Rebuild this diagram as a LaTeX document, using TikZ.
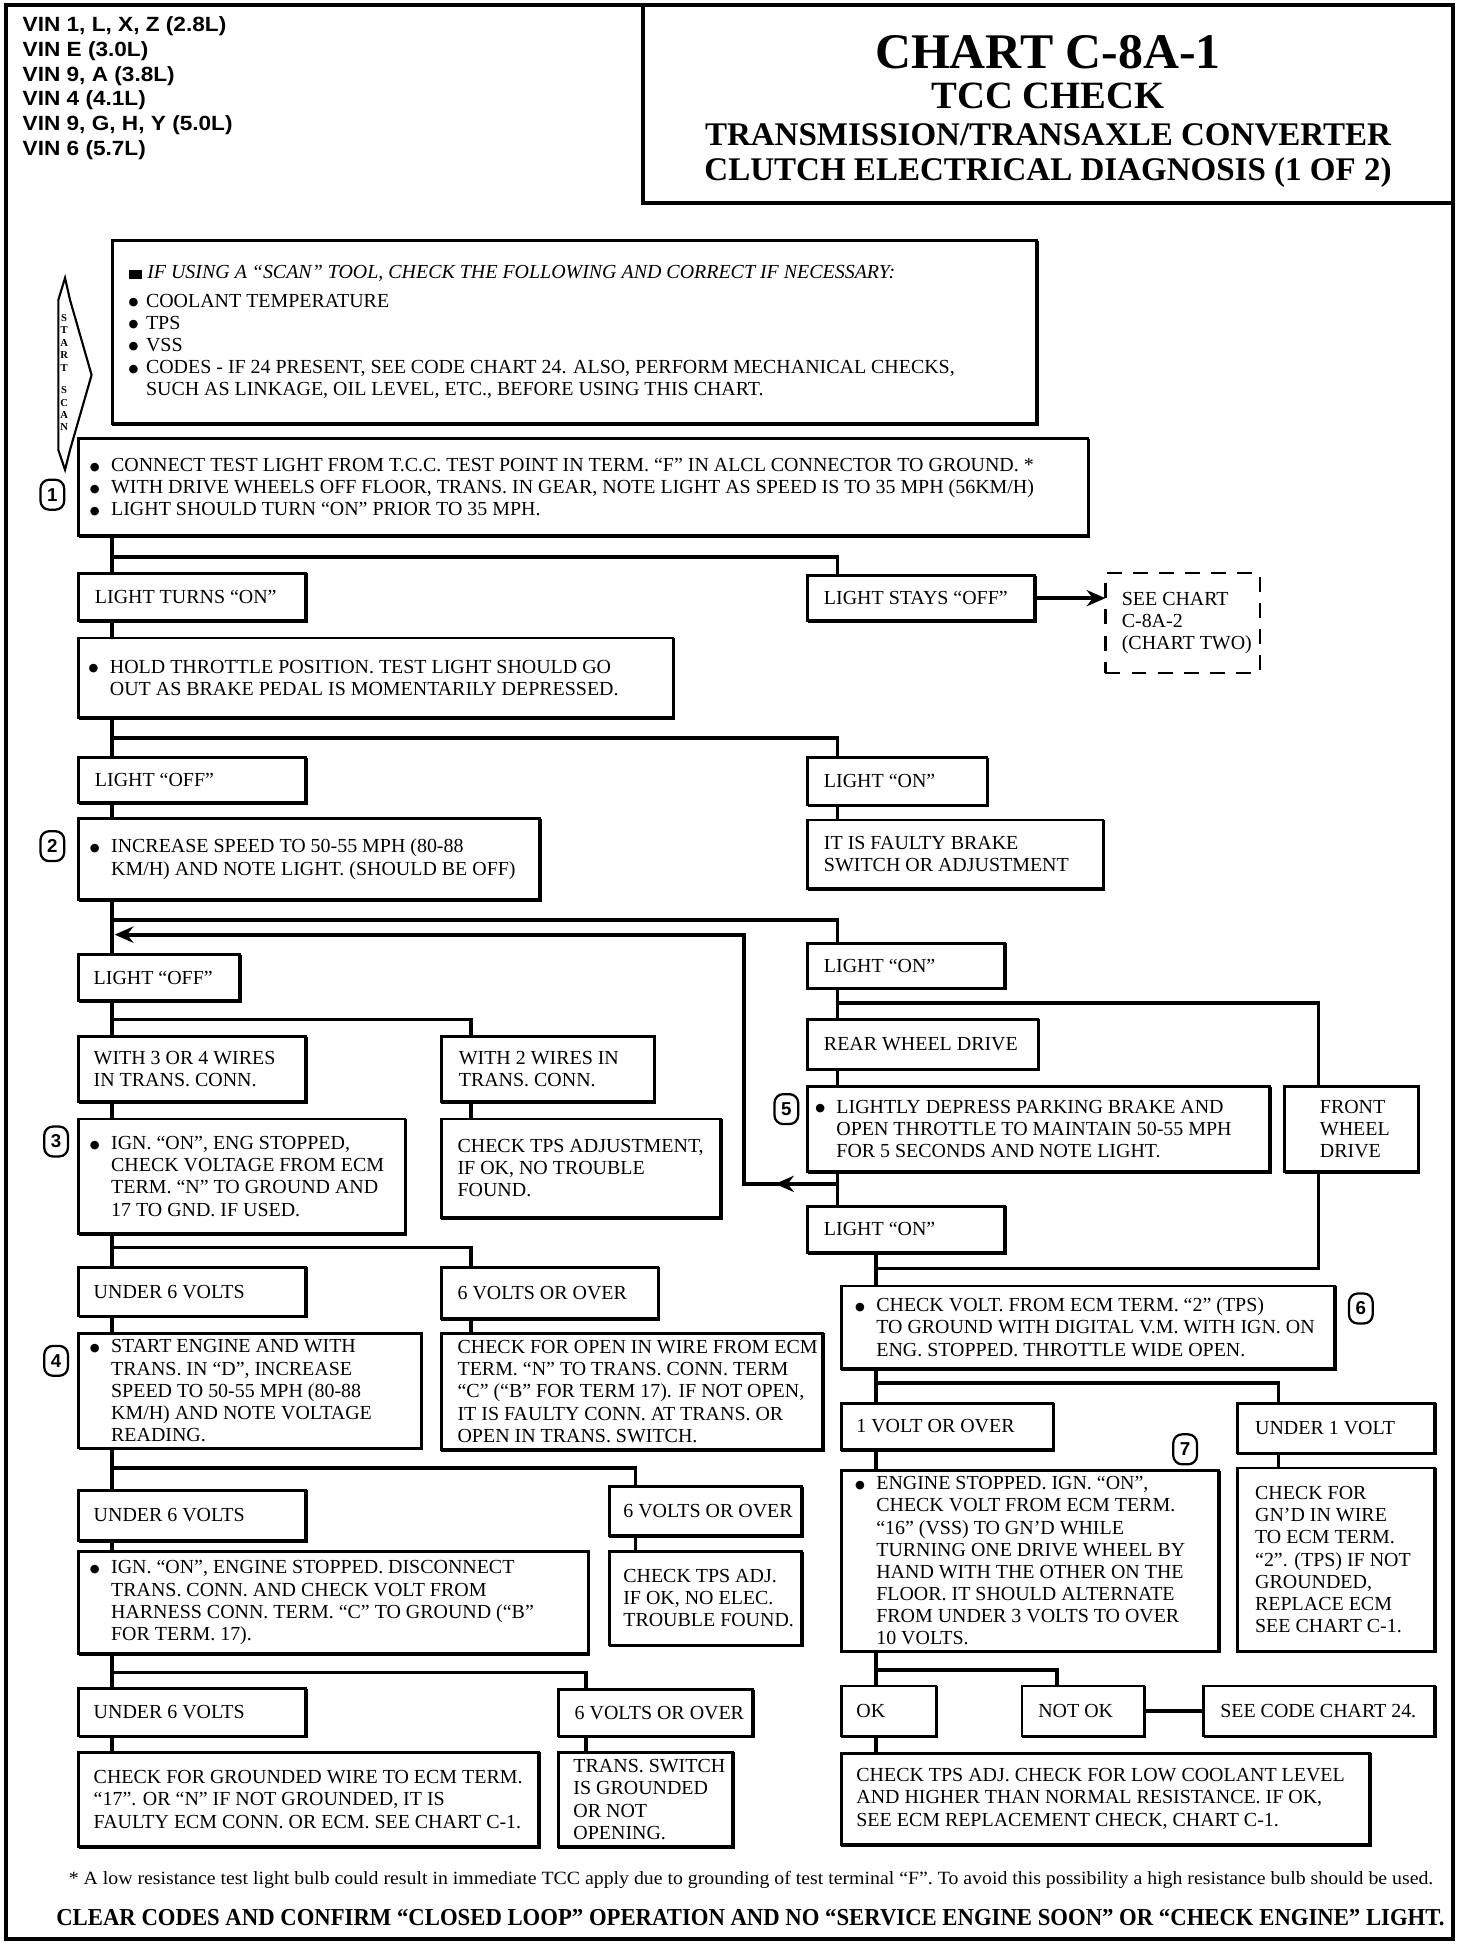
\documentclass[tikz,border=0pt]{standalone}
\usepackage{fontspec}
\setmainfont{Liberation Serif}
\setsansfont{Liberation Sans}
\newfontfamily\vinfont[FakeStretch=1.1]{Liberation Sans}
\newfontfamily\condser[FakeStretch=0.935]{Liberation Serif}
\newfontfamily\footser[FakeStretch=1.06]{Liberation Serif}
\newfontfamily\symfont{DejaVu Sans}
\usetikzlibrary{arrows.meta,calc}
\newcommand\bul{\makebox[17pt][l]{\raisebox{1.2pt}{\symfont\fontsize{9}{9}\selectfont ●}}}
\newcommand\sbul{\makebox[14pt][l]{\raisebox{1.2pt}{\symfont\fontsize{9}{9}\selectfont ●}}}
\newcommand\hind{\hspace*{17pt}}
\newcommand\flowbox[7][13]{%
  \node[flowbx, minimum width={#5pt-#3pt}, minimum height={#6pt-#4pt}, anchor=north west] (#2) at (#3,#4) {};
  \draw[shadowl] ([yshift=-1pt]#2.south west) -- ([xshift=1pt,yshift=-1pt]#2.south east) -- ([xshift=1pt]#2.north east);
  \node[ftext, anchor=west] (#2-t) at ([xshift=#1pt]#2.west) {#7};
}
\begin{document}
\begin{tikzpicture}[x=1pt,y=-1pt,
  flowbx/.style={draw, line width=2.2pt, inner sep=0pt, outer sep=0pt, rectangle},
  shadowl/.style={line width=1.6pt},
  ftext/.style={inner sep=0pt, align=left, font=\fontsize{16}{17.8}\selectfont},
  conn/.style={line width=3pt},
  arrowend/.style={-{Stealth[length=15pt,width=13pt]}},
  circnum/.style={draw, line width=1.8pt, rounded corners=7pt, minimum width=19pt, minimum height=24pt, inner sep=0pt, font=\fontsize{15}{15}\sffamily\bfseries}]
\useasboundingbox (0,0) rectangle (1181,1568);
% frame and title
\draw[line width=3pt] (5,4) rectangle (1166,1556);
\draw[line width=3.5pt] (516,4) -- (516,163) -- (1166,163);
\node[anchor=base, font=\fontsize{40}{40}\bfseries] (title1) at (841,55) {CHART C-8A-1};
\node[anchor=base, font=\fontsize{31}{31}\bfseries] (title2) at (841,87) {TCC CHECK};
\node[anchor=base, font=\fontsize{26.5}{27}\bfseries] (title3) at (841,117) {TRANSMISSION/TRANSAXLE CONVERTER};
\node[anchor=base, font=\fontsize{26.5}{27}\bfseries] (title4) at (841,145) {CLUTCH ELECTRICAL DIAGNOSIS (1 OF 2)};
\node[anchor=north west, inner sep=0pt, align=left, font=\fontsize{16.5}{19.8}\vinfont\bfseries] (vin) at (18,13.5) {VIN 1, L, X, Z (2.8L)\\VIN E (3.0L)\\VIN 9, A (3.8L)\\VIN 4 (4.1L)\\VIN 9, G, H, Y (5.0L)\\VIN 6 (5.7L)};
% start scan arrow
\draw[line width=1.7pt, line join=miter] (52.2,223) -- (56.2,240.7) -- (73.5,300.9) -- (56.2,361) -- (52.2,377) -- (46.8,361) -- (46.8,240.7) -- cycle;
\node[inner sep=0pt, align=center, font=\fontsize{8.5}{10}\bfseries] (startscan) at (51.5,299) {S\\T\\A\\R\\T\\[8pt]S\\C\\A\\N};
% boxes
\flowbox{scan}{90}{193}{832}{340}{\rule{11pt}{7pt}\hspace{4pt}\textit{IF USING A “SCAN” TOOL, CHECK THE FOLLOWING AND CORRECT IF NECESSARY:}\\[5pt]
 \sbul COOLANT TEMPERATURE\\ \sbul TPS\\ \sbul VSS\\ \sbul CODES - IF 24 PRESENT, SEE CODE CHART 24. ALSO, PERFORM MECHANICAL CHECKS,\\ \hspace*{14pt}SUCH AS LINKAGE, OIL LEVEL, ETC., BEFORE USING THIS CHART.}
\flowbox[9]{b1}{63}{352}{873}{430}{\bul CONNECT TEST LIGHT FROM T.C.C. TEST POINT IN TERM. “F” IN ALCL CONNECTOR TO GROUND. *\\ \bul WITH DRIVE WHEELS OFF FLOOR, TRANS. IN GEAR, NOTE LIGHT AS SPEED IS TO 35 MPH (56KM/H)\\ \bul LIGHT SHOULD TURN “ON” PRIOR TO 35 MPH.}
\flowbox{lton}{63}{460}{245}{498}{LIGHT TURNS “ON”}
\flowbox{lso}{648}{462}{830}{498}{LIGHT STAYS “OFF”}
\node[draw, line width=2pt, dash pattern=on 12pt off 9pt, inner sep=0pt, outer sep=0pt, minimum width=124pt, minimum height=80pt, anchor=north west] (see8a2) at (887,460) {};
\node[ftext, anchor=west] (see8a2-t) at ([xshift=13pt]see8a2.west) {SEE CHART\\C-8A-2\\(CHART TWO)};
\flowbox[8]{hold}{63}{512}{540}{576}{\bul HOLD THROTTLE POSITION. TEST LIGHT SHOULD GO\\ \hind OUT AS BRAKE PEDAL IS MOMENTARILY DEPRESSED.}
\flowbox{loffa}{63}{608}{245}{644}{LIGHT “OFF”}
\flowbox{lona}{648}{608}{792}{646}{LIGHT “ON”}
\flowbox{brake}{648}{658}{885}{713}{IT IS FAULTY BRAKE\\SWITCH OR ADJUSTMENT}
\flowbox[9]{b2}{63}{657}{433}{722}{\bul INCREASE SPEED TO 50-55 MPH (80-88\\ \hind KM/H) AND NOTE LIGHT. (SHOULD BE OFF)}
\flowbox[12]{loffb}{63}{766}{192}{803}{LIGHT “OFF”}
\flowbox{lonb}{648}{757}{806}{793}{LIGHT “ON”}
\flowbox[12]{w34}{63}{832}{245}{884}{WITH 3 OR 4 WIRES\\IN TRANS. CONN.}
\flowbox[14]{w2}{354}{832}{525}{884}{WITH 2 WIRES IN\\TRANS. CONN.}
\flowbox[9]{b3}{63}{898}{325}{990}{\bul IGN. “ON”, ENG STOPPED,\\ \hind CHECK VOLTAGE FROM ECM\\ \hind TERM. “N” TO GROUND AND\\ \hind 17 TO GND. IF USED.}
\flowbox{tpsadj}{354}{898}{578}{977}{CHECK TPS ADJUSTMENT,\\IF OK, NO TROUBLE\\FOUND.}
\flowbox{rwd}{648}{818}{833}{858}{REAR WHEEL DRIVE}
\flowbox[6]{b5}{648}{872}{1019}{940}{\bul LIGHTLY DEPRESS PARKING BRAKE AND\\ \hind OPEN THROTTLE TO MAINTAIN 50-55 MPH\\ \hind FOR 5 SECONDS AND NOTE LIGHT.}
\flowbox[28]{fwd}{1031}{872}{1138}{940}{FRONT\\WHEEL\\DRIVE}
\flowbox{lonc}{648}{968}{806}{1005}{LIGHT “ON”}
\flowbox[11]{b6}{675}{1032}{1071}{1098}{\bul CHECK VOLT. FROM ECM TERM. “2” (TPS)\\ \hind TO GROUND WITH DIGITAL V.M. WITH IGN. ON\\ \hind ENG. STOPPED. THROTTLE WIDE OPEN.}
\flowbox[12]{u6a}{63}{1017}{245}{1056}{UNDER 6 VOLTS}
\flowbox{o6a}{354}{1017}{528}{1058}{6 VOLTS OR OVER}
\flowbox[9]{b4}{63}{1070}{338}{1162}{\bul START ENGINE AND WITH\\ \hind TRANS. IN “D”, INCREASE\\ \hind SPEED TO 50-55 MPH (80-88\\ \hind KM/H) AND NOTE VOLTAGE\\ \hind READING.}
\flowbox{open}{354}{1070}{660}{1163}{CHECK FOR OPEN IN WIRE FROM ECM\\TERM. “N” TO TRANS. CONN. TERM\\“C” (“B” FOR TERM 17). IF NOT OPEN,\\IT IS FAULTY CONN. AT TRANS. OR\\OPEN IN TRANS. SWITCH.}
\flowbox[12]{u6b}{63}{1196}{245}{1236}{UNDER 6 VOLTS}
\flowbox[11]{o6b}{489}{1193}{643}{1232}{6 VOLTS OR OVER}
\flowbox[9]{ign}{63}{1245}{472}{1327}{\bul IGN. “ON”, ENGINE STOPPED. DISCONNECT\\ \hind TRANS. CONN. AND CHECK VOLT FROM\\ \hind HARNESS CONN. TERM. “C” TO GROUND (“B”\\ \hind FOR TERM. 17).}
\flowbox[11]{tpsadjb}{489}{1245}{643}{1320}{CHECK TPS ADJ.\\IF OK, NO ELEC.\\TROUBLE FOUND.}
\flowbox[12]{u6c}{63}{1355}{245}{1393}{UNDER 6 VOLTS}
\flowbox{o6c}{448}{1356}{604}{1393}{6 VOLTS OR OVER}
\flowbox[12]{gnd}{63}{1406}{432}{1482}{CHECK FOR GROUNDED WIRE TO ECM TERM.\\“17”. OR “N” IF NOT GROUNDED, IT IS\\FAULTY ECM CONN. OR ECM. SEE CHART C-1.}
\flowbox[12]{tsw}{448}{1406}{588}{1482}{TRANS. SWITCH\\IS GROUNDED\\OR NOT\\OPENING.}
\flowbox[12]{volt}{675}{1126}{845}{1163}{1 VOLT OR OVER}
\flowbox[14]{uvolt}{993}{1126}{1151}{1166}{UNDER 1 VOLT}
\flowbox[11]{b7}{675}{1180}{978}{1325}{\bul ENGINE STOPPED. IGN. “ON”,\\ \hind CHECK VOLT FROM ECM TERM.\\ \hind “16” (VSS) TO GN’D WHILE\\ \hind TURNING ONE DRIVE WHEEL BY\\ \hind HAND WITH THE OTHER ON THE\\ \hind FLOOR. IT SHOULD ALTERNATE\\ \hind FROM UNDER 3 VOLTS TO OVER\\ \hind 10 VOLTS.}
\flowbox[14]{gndb}{993}{1178}{1151}{1325}{CHECK FOR\\GN’D IN WIRE\\TO ECM TERM.\\“2”. (TPS) IF NOT\\GROUNDED,\\REPLACE ECM\\SEE CHART C-1.}
\flowbox[12]{ok}{675}{1353}{751}{1393}{OK}
\flowbox{notok}{820}{1353}{918}{1393}{NOT OK}
\flowbox{seecc}{966}{1353}{1151}{1393}{SEE CODE CHART 24.}
\flowbox[12]{final}{675}{1407}{1099}{1480}{CHECK TPS ADJ. CHECK FOR LOW COOLANT LEVEL\\AND HIGHER THAN NORMAL RESISTANCE. IF OK,\\SEE ECM REPLACEMENT CHECK, CHART C-1.}
% circled step numbers
\node[circnum] (n1) at (42,397) {1};
\node[circnum] (n2) at (42,679) {2};
\node[circnum] (n3) at (45,916) {3};
\node[circnum] (n4) at (45,1092) {4};
\node[circnum] (n5) at (631,890) {5};
\node[circnum] (n6) at (1092,1050) {6};
\node[circnum] (n7) at (951,1163) {7};
% connectors
\draw[conn] ([xshift=27pt]b1.south west) -- ([xshift=27pt]lton.north west);
\draw[conn] ([xshift=27pt,yshift=-17pt]b1.south west) -| ([xshift=24pt]lso.north west);
\draw[conn,arrowend] (lso.east) -- (lso.east -| see8a2.west);
\draw[conn] ([xshift=27pt]lton.south west) -- ([xshift=27pt]hold.north west);
\draw[conn] ([xshift=27pt]hold.south west) -- ([xshift=27pt]loffa.north west);
\draw[conn] ([xshift=27pt,yshift=-16pt]hold.south west) -| ([xshift=24pt]lona.north west);
\draw[conn] ([xshift=27pt]loffa.south west) -- ([xshift=27pt]b2.north west);
\draw[conn] ([xshift=24pt]lona.south west) -- ([xshift=24pt]brake.north west);
\draw[conn] ([xshift=27pt]b2.south west) -- ([xshift=27pt]loffb.north west);
\draw[conn] ([xshift=27pt,yshift=-16pt]b2.south west) -| ([xshift=24pt]lonb.north west);
\draw[conn] ([xshift=24pt]lonb.south west) -- ([xshift=24pt]rwd.north west);
\draw[conn] ([xshift=24pt,yshift=-12pt]lonb.south west) -| ([xshift=27pt]fwd.north west);
\draw[conn] ([xshift=24pt]rwd.south west) -- ([xshift=24pt]b5.north west);
\draw[conn] ([xshift=24pt]b5.south west) -- ([xshift=24pt]lonc.north west);
\draw[conn,arrowend] ([xshift=24pt,yshift=-10pt]b5.south west) -- ++(-50pt,0pt);
\draw[conn,arrowend] ([xshift=24pt,yshift=-10pt]b5.south west) -- ++(-75pt,0pt) |- ([xshift=29pt,yshift=-28pt]b2.south west);
\draw[conn] ([xshift=55pt]lonc.south west) -- ([xshift=28pt]b6.north west);
\draw[conn] ([xshift=55pt,yshift=-13pt]lonc.south west) -| ([xshift=27pt]fwd.south west);
\draw[conn] ([xshift=28pt]b6.south west) -- ([xshift=28pt]volt.north west);
\draw[conn] ([xshift=28pt,yshift=-12pt]b6.south west) -| ([xshift=33pt]uvolt.north west);
\draw[conn] ([xshift=33pt]uvolt.south west) -- ([xshift=33pt]gndb.north west);
\draw[conn] ([xshift=28pt]volt.south west) -- ([xshift=28pt]b7.north west);
\draw[conn] ([xshift=28pt]b7.south west) -- ([xshift=28pt]ok.north west);
\draw[conn] ([xshift=28pt,yshift=-15pt]b7.south west) -| ([xshift=28pt]notok.north west);
\draw[conn] (notok.east) -- (seecc.west);
\draw[conn] ([xshift=28pt]ok.south west) -- ([xshift=28pt]final.north west);
\draw[conn] ([xshift=27pt]loffb.south west) -- ([xshift=27pt]w34.north west);
\draw[conn] ([xshift=27pt,yshift=-15pt]loffb.south west) -| ([xshift=24pt]w2.north west);
\draw[conn] ([xshift=27pt]w34.south west) -- ([xshift=27pt]b3.north west);
\draw[conn] ([xshift=24pt]w2.south west) -- ([xshift=24pt]tpsadj.north west);
\draw[conn] ([xshift=27pt]b3.south west) -- ([xshift=27pt]u6a.north west);
\draw[conn] ([xshift=27pt,yshift=-11pt]b3.south west) -| ([xshift=24pt]o6a.north west);
\draw[conn] ([xshift=27pt]u6a.south west) -- ([xshift=27pt]b4.north west);
\draw[conn] ([xshift=24pt]o6a.south west) -- ([xshift=24pt]open.north west);
\draw[conn] ([xshift=27pt]b4.south west) -- ([xshift=27pt]u6b.north west);
\draw[conn] ([xshift=27pt,yshift=-16pt]b4.south west) -| ([xshift=21pt]o6b.north west);
\draw[conn] ([xshift=27pt]u6b.south west) -- ([xshift=27pt]ign.north west);
\draw[conn] ([xshift=21pt]o6b.south west) -- ([xshift=21pt]tpsadjb.north west);
\draw[conn] ([xshift=27pt]ign.south west) -- ([xshift=27pt]u6c.north west);
\draw[conn] ([xshift=27pt,yshift=-15pt]ign.south west) -| ([xshift=22pt]o6c.north west);
\draw[conn] ([xshift=27pt]u6c.south west) -- ([xshift=27pt]gnd.north west);
\draw[conn] ([xshift=22pt]o6c.south west) -- ([xshift=22pt]tsw.north west);
% bottom notes
\node[anchor=base west, inner sep=0pt, font=\fontsize{15}{16}\footser] (foot) at (55,1512) {* A low resistance test light bulb could result in immediate TCC apply due to grounding of test terminal “F”. To avoid this possibility a high resistance bulb should be used.};
\node[anchor=base west, inner sep=0pt, font=\fontsize{19.5}{20}\condser\bfseries] (clear) at (45,1545) {CLEAR CODES AND CONFIRM “CLOSED LOOP” OPERATION AND NO “SERVICE ENGINE SOON” OR “CHECK ENGINE” LIGHT.};
\end{tikzpicture}
\end{document}
